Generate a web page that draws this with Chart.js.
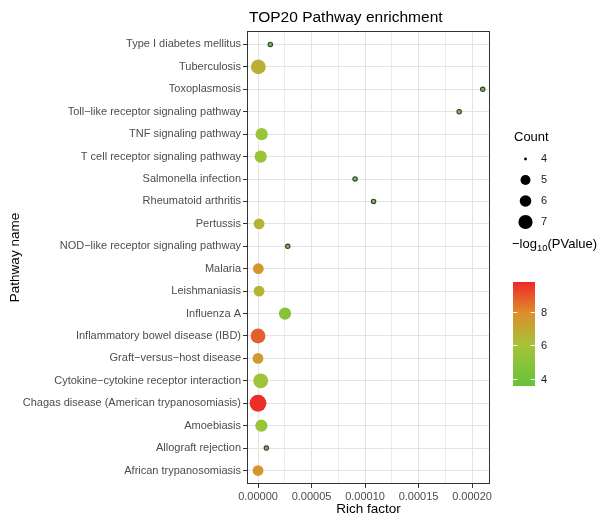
<!DOCTYPE html>
<html>
<head>
<meta charset="utf-8">
<script src="https://cdn.jsdelivr.net/npm/chart.js@4.4.1/dist/chart.umd.min.js"></script>
<style>
    html, body { margin: 0; padding: 0; background: #fff; }
    #wrap { width: 606px; height: 519px; }
</style>
</head>
<body>
<div id="wrap"><canvas id="enrichChart"></canvas></div>
<script>
// Pathways, top to bottom
const categories = [
    'Type I diabetes mellitus',
    'Tuberculosis',
    'Toxoplasmosis',
    'Toll\u2212like receptor signaling pathway',
    'TNF signaling pathway',
    'T cell receptor signaling pathway',
    'Salmonella infection',
    'Rheumatoid arthritis',
    'Pertussis',
    'NOD\u2212like receptor signaling pathway',
    'Malaria',
    'Leishmaniasis',
    'Influenza A',
    'Inflammatory bowel disease (IBD)',
    'Graft\u2212versus\u2212host disease',
    'Cytokine\u2212cytokine receptor interaction',
    'Chagas disease (American trypanosomiasis)',
    'Amoebiasis',
    'Allograft rejection',
    'African trypanosomiasis'
];
const richFactor = [
    0.0000115, 0.0000003, 0.000210, 0.000188, 0.0000034,
    0.0000025, 0.0000907, 0.000108, 0.000001, 0.0000278,
    0.0000003, 0.000001, 0.0000252, 0.0000000, 0.0000000,
    0.0000025, 0.0000000, 0.0000031, 0.0000078, 0.0000000
];
const counts = [4, 7, 4, 4, 6, 6, 4, 4, 5, 4, 5, 5, 6, 7, 5, 7, 8, 6, 4, 5];
const logP = [
    3.9, 6.8, 3.9, 3.9, 5.5, 5.5, 3.9, 3.9, 6.6, 3.9,
    7.6, 6.6, 4.8, 8.8, 7.5, 5.6, 9.7, 5.5, 3.9, 7.6
];
const xMajor = [0, 0.00005, 0.0001, 0.00015, 0.0002];
const xMinor = [0.000025, 0.000075, 0.000125, 0.000175];
const countBreaks = [4, 5, 6, 7];
const colorBreaks = [4, 6, 8];

// styling
const pMin = 3.58, pMax = 9.79;
const colorStops = [
    [3.58, [102, 194, 58]],
    [6.0, [165, 196, 56]],
    [8.0, [222, 140, 44]],
    [9.79, [238, 40, 40]]
];
const radiusByCount = { 4: 2.2, 5: 5.4, 6: 6.1, 7: 7.4, 8: 8.4 };
const legendRadius = { 4: 1.4, 5: 5, 6: 5.8, 7: 7.1 };
const FONT = '"Liberation Sans", Arial, Helvetica, sans-serif';

function pColor(v) {
    v = Math.max(pMin, Math.min(pMax, v));
    for (let i = 0; i < colorStops.length - 1; i++) {
        const [a, ca] = colorStops[i];
        const [b, cb] = colorStops[i + 1];
        if (v <= b) {
            const t = (v - a) / (b - a);
            const c = ca.map((x, k) => Math.round(x + (cb[k] - x) * t));
            return `rgb(${c[0]},${c[1]},${c[2]})`;
        }
    }
    const c = colorStops[colorStops.length - 1][1];
    return `rgb(${c[0]},${c[1]},${c[2]})`;
}

const isMajor = v => xMajor.some(m => Math.abs(m - v) < 1e-9);

const decorations = {
    id: 'decorations',
    afterDatasetsDraw(chart) {
        const ctx = chart.ctx;
        const area = chart.chartArea;
        ctx.save();

        // panel border
        ctx.strokeStyle = '#333333';
        ctx.lineWidth = 1;
        ctx.strokeRect(area.left + 0.5, area.top + 0.5, area.right - area.left - 1, area.bottom - area.top - 1);

        // titles
        ctx.fillStyle = '#000';
        ctx.textBaseline = 'middle';
        ctx.textAlign = 'left';
        ctx.font = `15.5px ${FONT}`;
        ctx.fillText('TOP20 Pathway enrichment', area.left + 2, 18);

        ctx.font = `13.5px ${FONT}`;
        ctx.textAlign = 'center';
        ctx.fillText('Rich factor', (area.left + area.right) / 2, 509);

        ctx.save();
        ctx.translate(15, (area.top + area.bottom) / 2);
        ctx.rotate(-Math.PI / 2);
        ctx.fillText('Pathway name', 0, 0);
        ctx.restore();

        // size legend
        ctx.textAlign = 'left';
        ctx.font = `13px ${FONT}`;
        ctx.fillText('Count', 514, 137);
        ctx.font = `11px ${FONT}`;
        countBreaks.forEach((c, i) => {
            const y = 159 + i * 21;
            ctx.beginPath();
            ctx.arc(525.5, y, legendRadius[c], 0, Math.PI * 2);
            ctx.fillStyle = '#000';
            ctx.fill();
            ctx.fillStyle = '#1a1a1a';
            ctx.fillText(String(c), 541, y);
        });

        // colour legend title: -log10(PValue)
        ctx.fillStyle = '#000';
        ctx.font = `13px ${FONT}`;
        let tx = 512;
        const ty = 244;
        ctx.fillText('\u2212log', tx, ty);
        tx += ctx.measureText('\u2212log').width;
        ctx.font = `9.5px ${FONT}`;
        ctx.fillText('10', tx, ty + 4);
        tx += ctx.measureText('10').width;
        ctx.font = `13px ${FONT}`;
        ctx.fillText('(PValue)', tx, ty);

        // colour bar
        const barX = 513, barW = 22, barTop = 282, barBottom = 386;
        const valToY = v => barBottom - (v - pMin) / (pMax - pMin) * (barBottom - barTop);
        const grad = ctx.createLinearGradient(0, barBottom, 0, barTop);
        for (let k = 0; k <= 20; k++) {
            const v = pMin + (pMax - pMin) * k / 20;
            grad.addColorStop(k / 20, pColor(v));
        }
        ctx.fillStyle = grad;
        ctx.fillRect(barX, barTop, barW, barBottom - barTop);

        ctx.strokeStyle = 'rgba(255,255,255,0.9)';
        ctx.lineWidth = 1;
        ctx.font = `11px ${FONT}`;
        colorBreaks.forEach(v => {
            const y = Math.round(valToY(v)) + 0.5;
            ctx.beginPath();
            ctx.moveTo(barX, y); ctx.lineTo(barX + 4.5, y);
            ctx.moveTo(barX + barW - 4.5, y); ctx.lineTo(barX + barW, y);
            ctx.stroke();
            ctx.fillStyle = '#1a1a1a';
            ctx.fillText(String(v), 541, y);
        });

        ctx.restore();
    }
};

new Chart(document.getElementById('enrichChart'), {
    type: 'scatter',
    data: {
        datasets: [{
            data: categories.map((c, i) => ({ x: richFactor[i], y: i })),
            pointRadius: ctx => radiusByCount[counts[ctx.dataIndex]],
            pointHoverRadius: ctx => radiusByCount[counts[ctx.dataIndex]],
            backgroundColor: ctx => pColor(logP[ctx.dataIndex]),
            borderColor: ctx => counts[ctx.dataIndex] === 4 ? '#3b3b3b' : pColor(logP[ctx.dataIndex]),
            borderWidth: ctx => counts[ctx.dataIndex] === 4 ? 1.1 : 0
        }]
    },
    options: {
        responsive: true,
        maintainAspectRatio: false,
        animation: false,
        layout: { padding: { top: 31, right: 116, left: 0, bottom: 0 } },
        plugins: {
            legend: { display: false },
            tooltip: { enabled: false }
        },
        scales: {
            x: {
                type: 'linear',
                min: -0.0000103,
                max: 0.0002168,
                afterBuildTicks: scale => {
                    scale.ticks = [...xMajor, ...xMinor].sort((a, b) => a - b).map(v => ({ value: v }));
                },
                afterFit: scale => { scale.height = 35; },
                border: { display: false },
                grid: {
                    color: ctx => isMajor(ctx.tick.value) ? '#e4e4e4' : '#ebebeb',
                    lineWidth: 1,
                    drawTicks: true,
                    tickLength: 4,
                    tickColor: ctx => isMajor(ctx.tick.value) ? '#333333' : 'rgba(0,0,0,0)'
                },
                ticks: {
                    autoSkip: false,
                    maxRotation: 0,
                    padding: 2,
                    color: '#4d4d4d',
                    font: { family: FONT, size: 11 },
                    callback: v => isMajor(v) ? v.toFixed(5) : ''
                }
            },
            y: {
                type: 'linear',
                reverse: true,
                min: -0.6,
                max: categories.length - 0.4,
                afterBuildTicks: scale => {
                    scale.ticks = categories.map((c, i) => ({ value: i }));
                },
                afterFit: scale => { scale.width = 247; },
                border: { display: false },
                grid: {
                    color: '#e4e4e4',
                    lineWidth: 1,
                    drawTicks: true,
                    tickLength: 4,
                    tickColor: '#333333'
                },
                ticks: {
                    autoSkip: false,
                    padding: 2,
                    color: '#4d4d4d',
                    font: { family: FONT, size: 11 },
                    callback: v => categories[v] ?? ''
                }
            }
        }
    },
    plugins: [decorations]
});
</script>
</body>
</html>
